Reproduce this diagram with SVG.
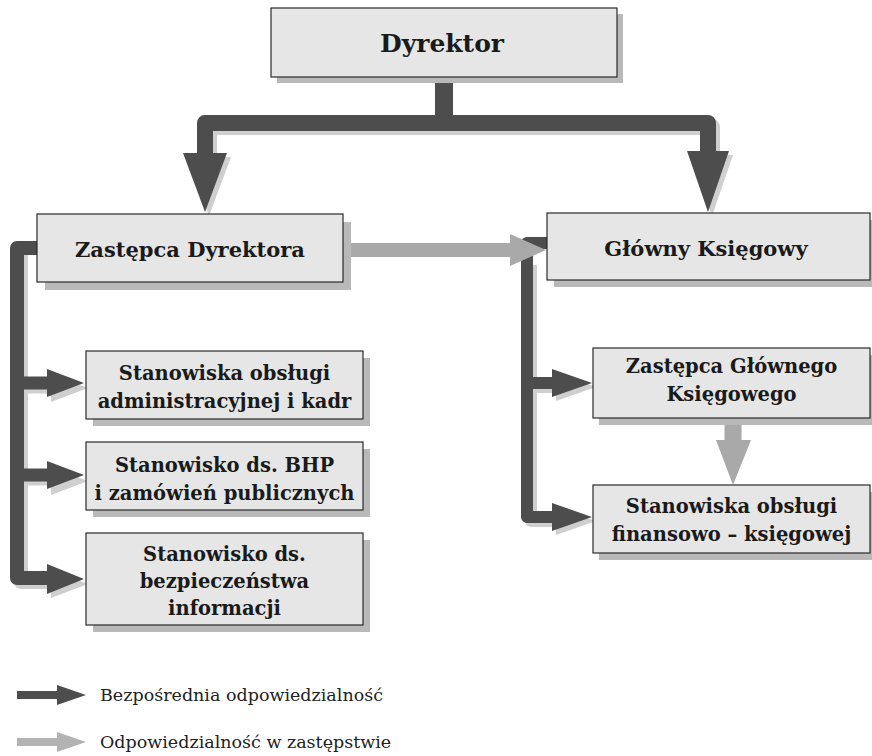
<svg xmlns="http://www.w3.org/2000/svg" width="872" height="756" viewBox="0 0 872 756">
<style>
.box{fill:#e6e6e6;stroke:#2a2a2a;stroke-width:1.2}
.shadow{fill:#b9b9b9}
.t{font-family:"DejaVu Serif","Liberation Serif",serif;font-weight:bold;fill:#1a1a1a;text-anchor:middle}
.t25{font-size:25px}
.t21{font-size:21px}
.t19{font-size:19.5px}
.dk{fill:none;stroke:#4d4d4d;stroke-linejoin:round}
.dkf{fill:#4d4d4d}
.gr{fill:none;stroke:#a9a9a9}
.grf{fill:#a9a9a9}
.ash{fill:none;stroke:#cfcfcf;stroke-linejoin:round}
.ashf{fill:#cfcfcf}
.leg{font-family:"DejaVu Serif","Liberation Serif",serif;font-size:17.5px;fill:#222}
</style>
<rect width="872" height="756" fill="#ffffff"/>
<g id="connectors">
  <!-- arrow shadows -->
  <path class="ash" d="M209 157 V127 H712 V155" stroke-width="16"/>
  <polygon class="ashf" points="187,157 231,157 209,216"/>
  <polygon class="ashf" points="691,155 733,155 712,216"/>
  <path class="ash" d="M21 252 V582 H51" stroke-width="14"/>
  <path class="ash" d="M21 387 H52 M21 479 H52" stroke-width="13"/>
  <polygon class="ashf" points="51,374 88,388 51,402"/>
  <polygon class="ashf" points="51,467 88,481 51,495"/>
  <polygon class="ashf" points="51,570 88,584 51,598"/>
  <path class="ash" d="M531 265 V521 H556 M531 387 H556" stroke-width="12"/>
  <polygon class="ashf" points="556,373 596,387 556,401"/>
  <polygon class="ashf" points="556,507 596,521 556,535"/>
  <!-- Dyrektor to deputies -->
  <path class="dk" d="M444 77 V123" stroke-width="18"/>
  <path class="dk" d="M205 155 V123 H708 V153" stroke-width="16"/>
  <polygon class="dkf" points="183,153 227,153 205,212"/>
  <polygon class="dkf" points="687,151 729,151 708,212"/>
  <!-- left vertical line -->
  <path class="dk" d="M38 248 H17 V578 H50" stroke-width="14"/>
  <path class="dk" d="M17 383 H50 M17 475 H50" stroke-width="13"/>
  <polygon class="dkf" points="47,369 84,383 47,397"/>
  <polygon class="dkf" points="47,461 84,475 47,489"/>
  <polygon class="dkf" points="47,564 84,579 47,594"/>
  <!-- right vertical line -->
  <path class="dk" d="M548 243 H527 V517 H554" stroke-width="12"/>
  <path class="dk" d="M527 383 H554" stroke-width="12"/>
  <polygon class="dkf" points="552,369 592,383 552,397"/>
  <polygon class="dkf" points="552,503 592,517 552,531"/>
  <!-- substitution arrows -->
  <path class="gr" d="M343 250 H512" stroke-width="14"/>
  <polygon class="grf" points="510,234 546,250 510,266"/>
  <path class="gr" d="M733 418 V442" stroke-width="17"/>
  <polygon class="grf" points="716,440 751,440 733,485"/>
</g>
<g id="dyrektor">
  <rect class="shadow" x="277" y="14" width="346" height="69"/>
  <rect class="box" x="271" y="8" width="346" height="69"/>
  <text class="t t25" x="442" y="52">Dyrektor</text>
</g>
<g id="zastepca-dyrektora">
  <rect class="shadow" x="45" y="222" width="306" height="68"/>
  <rect class="box" x="37" y="214" width="306" height="68"/>
  <text class="t t21" x="190" y="257">Zastępca Dyrektora</text>
</g>
<g id="glowny-ksiegowy">
  <rect class="shadow" x="554" y="220" width="318" height="67"/>
  <rect class="box" x="547" y="213" width="323" height="67"/>
  <text class="t t21" x="706" y="256">Główny Księgowy</text>
</g>
<g id="stanowiska-administracyjne">
  <rect class="shadow" x="93" y="358" width="277" height="68"/>
  <rect class="box" x="86" y="351" width="277" height="68"/>
  <text class="t t19" x="224.5" y="380">Stanowiska obsługi</text>
  <text class="t t19" x="224.5" y="408">administracyjnej i kadr</text>
</g>
<g id="stanowisko-bhp">
  <rect class="shadow" x="93" y="449" width="277" height="68"/>
  <rect class="box" x="86" y="442" width="277" height="68"/>
  <text class="t t19" x="224.5" y="472">Stanowisko ds. BHP</text>
  <text class="t t19" x="224.5" y="500">i zamówień publicznych</text>
</g>
<g id="stanowisko-bezpieczenstwa">
  <rect class="shadow" x="93" y="540" width="277" height="92"/>
  <rect class="box" x="86" y="533" width="277" height="92"/>
  <text class="t t19" x="224.5" y="561">Stanowisko ds.</text>
  <text class="t t19" x="224.5" y="588">bezpieczeństwa</text>
  <text class="t t19" x="224.5" y="615">informacji</text>
</g>
<g id="zastepca-glownego-ksiegowego">
  <rect class="shadow" x="599" y="355" width="273" height="70"/>
  <rect class="box" x="593" y="348" width="277" height="70"/>
  <text class="t t19" x="731.5" y="373">Zastępca Głównego</text>
  <text class="t t19" x="731.5" y="401">Księgowego</text>
</g>
<g id="stanowiska-finansowe">
  <rect class="shadow" x="599" y="492" width="273" height="68"/>
  <rect class="box" x="593" y="485" width="277" height="68"/>
  <text class="t t19" x="731.5" y="513">Stanowiska obsługi</text>
  <text class="t t19" x="731.5" y="541">finansowo – księgowej</text>
</g>
<g id="legend">
  <path d="M17 695 H59" stroke="#4d4d4d" stroke-width="8"/>
  <polygon class="dkf" points="57,685 86,695 57,705"/>
  <text class="leg" x="100" y="701">Bezpośrednia odpowiedzialność</text>
  <path d="M17 742 H59" stroke="#b3b3b3" stroke-width="8"/>
  <polygon fill="#b3b3b3" points="57,732 86,742 57,752"/>
  <text class="leg" x="100" y="748">Odpowiedzialność w zastępstwie</text>
</g>
</svg>
